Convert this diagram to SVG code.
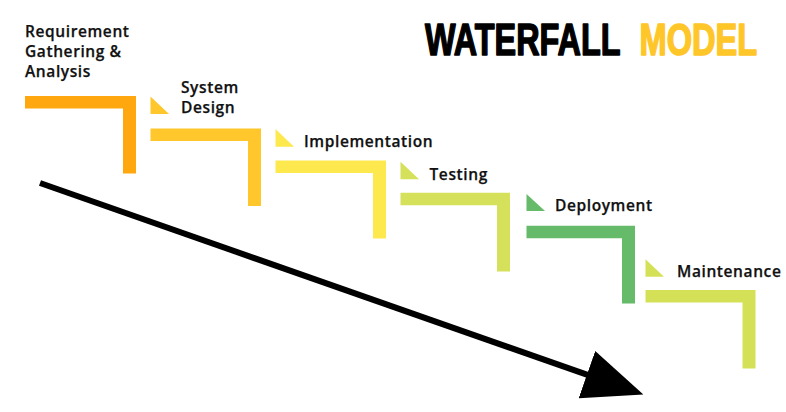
<svg xmlns="http://www.w3.org/2000/svg" width="786" height="412" viewBox="0 0 786 412">
  <defs>
    <style>
      .label { font-family: "Open Sans", "Liberation Sans", Arial, sans-serif; font-weight: 600; font-size: 15.5px; fill: #111; letter-spacing: 0.6px; stroke: #111; stroke-width: 0.25px; }
      .title { font-family: "Liberation Sans", Arial, sans-serif; font-weight: 700; font-size: 45px; stroke-width: 1.6px; stroke-linejoin: round; }
      .flow { fill: none; stroke: #000; stroke-width: 6; }
    </style>
    <marker id="head" markerUnits="userSpaceOnUse" markerWidth="60" markerHeight="50" viewBox="0 0 55 46" refX="2" refY="23" orient="auto">
      <path d="M0,0 L55,23 L0,46 Z" fill="#000"/>
    </marker>
  </defs>

  <rect width="786" height="412" fill="#fff"/>

  <!-- title, condensed horizontally -->
  <g id="title">
    <text class="title" transform="translate(425,55) scale(0.72,1)" fill="#000" stroke="#000">WATERFALL</text>
    <text class="title" transform="translate(639.5,55) scale(0.725,1)" fill="#FFC629" stroke="#FFC629">MODEL</text>
  </g>

  <!-- phase 1 -->
  <g id="requirements">
    <path d="M25,96 H136 V173.5 H123 V108.5 H25 Z" fill="#FFA70F"/>
    <text class="label" x="25" y="36.5">Requirement</text>
    <text class="label" x="25" y="56.5">Gathering &amp;</text>
    <text class="label" x="25" y="76.5">Analysis</text>
  </g>

  <!-- phase 2 -->
  <g id="system-design">
    <path d="M150.5,96.5 V114 H169 Z" fill="#FFC72C"/>
    <path d="M150.5,128.5 H261 V206 H248 V141 H150.5 Z" fill="#FFC72C"/>
    <text class="label" x="181" y="92.5">System</text>
    <text class="label" x="181" y="112.5">Design</text>
  </g>

  <!-- phase 3 -->
  <g id="implementation">
    <path d="M275.5,129 V146.7 H294 Z" fill="#FDE84E"/>
    <path d="M275.5,160.5 H386 V238.5 H373 V173 H275.5 Z" fill="#FDE84E"/>
    <text class="label" x="304" y="147">Implementation</text>
  </g>

  <!-- phase 4 -->
  <g id="testing">
    <path d="M400.5,161.7 V179.3 H419 Z" fill="#D5E15A"/>
    <path d="M400.5,192.7 H510 V271.5 H497 V205.2 H400.5 Z" fill="#D5E15A"/>
    <text class="label" x="429.5" y="180">Testing</text>
  </g>

  <!-- phase 5 -->
  <g id="deployment">
    <path d="M526.5,194 V211 H545 Z" fill="#66BB6A"/>
    <path d="M526.5,225.7 H635 V303.5 H622 V238.2 H526.5 Z" fill="#66BB6A"/>
    <text class="label" x="555" y="211">Deployment</text>
  </g>

  <!-- phase 6 -->
  <g id="maintenance">
    <path d="M645.5,259.3 V276.7 H664 Z" fill="#D4E157"/>
    <path d="M645.5,290 H755.5 V368.5 H742.5 V302.5 H645.5 Z" fill="#D4E157"/>
    <text class="label" x="677" y="276.5">Maintenance</text>
  </g>

  <!-- overall flow direction -->
  <g id="connectors">
    <line class="flow" x1="40" y1="183" x2="589" y2="375.4" marker-end="url(#head)"/>
  </g>
</svg>
